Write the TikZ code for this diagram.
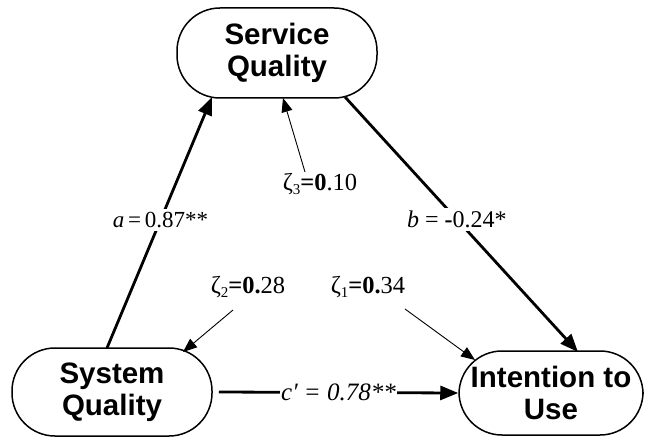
\documentclass[tikz,border=0pt]{standalone}
\usepackage{fontspec}
\setmainfont{Liberation Serif}
\newfontfamily\boxfont{Liberation Sans}
\usetikzlibrary{arrows.meta}
\tikzset{
  varbox/.style={draw, line width=1.5pt, rounded corners=43pt, inner sep=0pt,
    align=center, font=\boxfont\bfseries\fontsize{29.5}{32}\selectfont},
  patharrow/.style={line width=2.8pt, -{Triangle[length=18pt,width=14pt]}},
  errarrow/.style={line width=0.9pt, -{Triangle[length=14pt,width=11pt]}},
  coef/.style={fill=white, inner sep=3pt, font=\fontsize{23}{26}\selectfont},
  errlabel/.style={inner sep=0pt, font=\fontsize{24.5}{27}\selectfont}
}
\newcommand{\zsub}[1]{\raisebox{-0.35ex}{\fontsize{15}{15}\selectfont #1}}
\begin{document}
\begin{tikzpicture}[x=1pt,y=-1pt]
\useasboundingbox (0,0) rectangle (647,438);
% boxes
\node[varbox, minimum width=200pt, minimum height=90pt] (svc) at (277,53) {Service\\Quality};
\node[varbox, minimum width=200pt, minimum height=88pt] (sys) at (112,392) {System\\Quality};
\node[varbox, minimum width=184pt, minimum height=84pt] (int) at (551,393) {Intention to\\Use};
% error labels
\node[errlabel] (z3) at (320,184) {ζ\zsub{3}\textbf{=0}.10};
\node[errlabel] (z2) at (248,287) {ζ\zsub{2}\textbf{=0.}28};
\node[errlabel] (z1) at (368,287) {ζ\zsub{1}\textbf{=0.}34};
\coordinate (z3s) at (305,172);
\coordinate (z2s) at (233,310);
\coordinate (z1s) at (405,309);
% path arrows
\draw[patharrow] ([shift={(-5,-44)}]sys.center) -- node[coef, pos=0.51] (la) {\textit{a}\,=\,0.87**} ([shift={(-65,44)}]svc.center);
\draw[patharrow] ([shift={(68,44)}]svc.center) -- node[coef, pos=0.48, font=\fontsize{24}{27}\selectfont] (lb) {\textit{b} = \textbf{-}0.24*} ([shift={(27,-41)}]int.center);
\draw[patharrow] ([xshift=6pt]sys.east) -- node[coef, pos=0.5, inner sep=1pt, font=\fontsize{25}{28}\selectfont] (lc) {\itshape c′ = 0.78**} (int.west);
% error arrows
\draw[errarrow] (z3s) -- ([shift={(6,45)}]svc.center);
\draw[errarrow] (z2s) -- ([shift={(71,-40)}]sys.center);
\draw[errarrow] (z1s) -- ([shift={(-76,-33)}]int.center);
\end{tikzpicture}
\end{document}
